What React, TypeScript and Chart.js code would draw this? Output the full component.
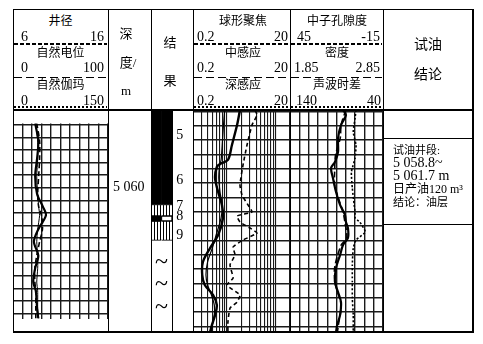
import React, { useEffect, useRef } from "react";
import { Chart, registerables } from "chart.js";
Chart.register(...registerables);

// ---------- depth axis ----------
const DEPTH_MIN = 5054.9;
const DEPTH_MAX = 5070.4;
const depthGrid = [5055, 5056, 5057, 5058, 5059, 5060, 5061, 5062, 5063, 5064, 5065, 5066, 5067, 5068, 5069, 5070];
const depthLabelValue = 5060;
const depthLabelText = "5 060";

// ---------- grid ticks ----------
const spGrid = [0, 10, 20, 30, 40, 50, 60, 70, 80, 90, 100];
const resGrid = [0.2, 0.3, 0.4, 0.5, 0.6, 0.7, 0.8, 0.9, 1, 2, 3, 4, 5, 6, 7, 8, 9, 10, 20];
const porGrid = [-15, -9, -3, 3, 9, 15, 21, 27, 33, 39, 45];

// ---------- track 1: caliper / SP / GR ----------
const t1Depth = [5054.9, 5056.3, 5057.7, 5059.1, 5060.5, 5061.5, 5062.2, 5063.3, 5064.3, 5065.4, 5066.4, 5067.5, 5068.2, 5069.6, 5070.4];
const grValues = [35, 40, 38, 35, 38, 47, 52, 40, 33, 40, 35, 32, 36, 38, 40];
const spValues = [25, 28, 28, 27, 26, 27, 30, 31, 28, 25, 23, 23, 24, 24, 24];
const calValues = [8.4, 8.6, 8.6, 8.5, 8.6, 8.7, 8.8, 8.6, 8.5, 8.6, 8.6, 8.5, 8.6, 8.6, 8.7];

// ---------- resistivity track ----------
const resDepth = [5054.9, 5055.95, 5057.34, 5058.39, 5058.67, 5058.88, 5059.65, 5060.63, 5061.53, 5062.44, 5063.63, 5064.54, 5065.51, 5066.42, 5067.12, 5067.82, 5068.52, 5069.22, 5069.92, 5070.4];
const rfocValues = [1.86, 1.62, 1.27, 1.05, 0.72, 0.62, 0.57, 0.66, 0.79, 0.83, 0.66, 0.45, 0.32, 0.31, 0.35, 0.52, 0.62, 0.57, 0.49, 0.45];
const rdeepValues = [0.9, 0.85, 0.8, 0.76, 0.72, 0.7, 0.68, 0.72, 0.8, 0.76, 0.6, 0.5, 0.4, 0.37, 0.4, 0.48, 0.55, 0.55, 0.5, 0.48];
const rmedDepth = [5054.9, 5055.25, 5055.95, 5057.34, 5058.74, 5060.14, 5060.84, 5061.53, 5062.02, 5062.3, 5062.72, 5063.14, 5063.49, 5063.98, 5064.47, 5065.02, 5065.72, 5066.63, 5067.12, 5067.82, 5068.31, 5068.73, 5069.71, 5070.4];
const rmedValues = [3.79, 4.18, 3.29, 2.6, 2.15, 1.86, 2.05, 2.72, 3.29, 1.62, 1.86, 2.99, 4.18, 2.15, 1.34, 1.47, 1.16, 1.34, 1.0, 1.86, 1.62, 1.16, 1.05, 1.05];

// ---------- porosity track ----------
const cnlDepth = [5054.9, 5055.25, 5055.95, 5056.86, 5057.83, 5058.53, 5058.95, 5059.65, 5060.63, 5061.53, 5062.23, 5062.72, 5063.14, 5063.84, 5064.33, 5065.03, 5065.93, 5066.91, 5067.61, 5068.31, 5069.22, 5069.92, 5070.4];
const cnlValues = [10.8, 8.9, 12.1, 14.0, 14.0, 16.0, 18.5, 17.3, 15.3, 12.7, 9.5, 8.9, 7.6, 7.6, 10.8, 12.7, 15.3, 16.0, 14.0, 12.1, 12.7, 14.6, 15.3];
const denDepth = [5054.9, 5055.95, 5056.86, 5058.04, 5059.23, 5060.14, 5061.05, 5062.02, 5062.72, 5063.84, 5064.33, 5065.93, 5067.12, 5068.52, 5069.92, 5070.4];
const denValues = [2.45, 2.40, 2.39, 2.34, 2.33, 2.33, 2.37, 2.42, 2.44, 2.46, 2.40, 2.33, 2.34, 2.40, 2.37, 2.36];
const acDepth = [5054.9, 5055.46, 5056.44, 5057.34, 5058.25, 5059.23, 5060.35, 5061.53, 5062.02, 5062.44, 5062.72, 5063.42, 5063.98, 5064.54, 5065.72, 5066.91, 5068.03, 5069.22, 5070.4];
const acValues = [69, 70, 72, 69, 70, 74, 73, 71, 70, 70, 65, 59, 69, 72, 73, 73, 73, 72, 72];

// ---------- lithology ----------
const lithCats = ["A", "B", "C", "D"];
const lithTop = [5054.9, 5061.5, 5062.3, 5062.65];
const lithBottom = [5061.5, 5062.3, 5062.65, 5064.0];
const lithFillA = ["black", "hatch", "black", "hatch"];
const lithFillB = ["black", "hatch", "white", "hatch"];
const layerNames = ["5", "6", "7", "8", "9"];
const layerDepths = [5056.65, 5059.8, 5061.65, 5062.35, 5063.63];
const tildeDepths = [5065.58, 5067.12, 5068.73];

const SERIF = '"Liberation Serif", "Noto Sans CJK SC", serif';

const gridColor = "#1a1a1a";

function depthAxis(extra: any = {}) {
  return {
    type: "linear",
    axis: "y",
    min: DEPTH_MIN,
    max: DEPTH_MAX,
    reverse: true,
    position: "left",
    afterBuildTicks: (s: any) => {
      s.ticks = depthGrid.map((v) => ({ value: v }));
    },
    afterFit: (s: any) => {
      s.width = 0;
    },
    ticks: { display: false, autoSkip: false },
    grid: { color: gridColor, lineWidth: 1.4, drawTicks: false },
    border: { display: false },
    ...extra,
  };
}

function gridX(type: string, min: number, max: number, ticks: number[], reverse = false, lw = 1.4) {
  return {
    type,
    axis: "x",
    position: "bottom",
    min,
    max,
    reverse,
    afterBuildTicks: (s: any) => {
      s.ticks = ticks.map((v) => ({ value: v }));
    },
    afterFit: (s: any) => {
      s.height = 0;
    },
    ticks: { display: false, autoSkip: false },
    grid: { color: gridColor, lineWidth: lw, drawTicks: false },
    border: { display: false },
  };
}

function hiddenX(min: number, max: number, reverse = false) {
  return { type: "linear", axis: "x", position: "bottom", min, max, reverse, display: false };
}

function curve(label: string, depth: number[], values: number[], xAxisID: string, style: any) {
  return {
    label,
    data: depth.map((d, i) => ({ x: values[i], y: d })),
    xAxisID,
    yAxisID: "y",
    showLine: true,
    pointRadius: 0,
    borderColor: "#000",
    backgroundColor: "#000",
    tension: 0.3,
    ...style,
  };
}

const baseOptions = {
  animation: false,
  responsive: false,
  maintainAspectRatio: false,
  devicePixelRatio: 1,
  events: [],
  layout: { padding: 0 },
  plugins: { legend: { display: false }, tooltip: { enabled: false }, title: { display: false } },
};

const lithLabelPlugin = {
  id: "lithLabels",
  afterDatasetsDraw(chart: any) {
    const { ctx, scales } = chart;
    const x = scales.x;
    const y = scales.y;
    ctx.save();
    ctx.fillStyle = "#000";
    ctx.textBaseline = "middle";
    ctx.textAlign = "left";
    ctx.font = `14px ${SERIF}`;
    layerNames.forEach((n, i) => {
      ctx.fillText(n, x.getPixelForValue(2) - 1, y.getPixelForValue(layerDepths[i]));
    });
    ctx.font = `24px ${SERIF}`;
    ctx.textAlign = "center";
    const tx = (x.getPixelForValue(0) + x.getPixelForValue(1)) / 2;
    tildeDepths.forEach((d) => ctx.fillText("~", tx, y.getPixelForValue(d)));
    ctx.restore();
  },
};

type TextProps = { x: number; y: number; t: string; a?: "l" | "c" | "r"; s?: number };
function Txt({ x, y, t, a = "c", s = 14 }: TextProps) {
  const tx = a === "l" ? "0" : a === "c" ? "-50%" : "-100%";
  return (
    <div
      style={{
        position: "absolute",
        left: x,
        top: y,
        transform: `translate(${tx}, -50%)`,
        fontFamily: SERIF,
        fontSize: s,
        lineHeight: `${s}px`,
        height: s,
        whiteSpace: "nowrap",
        color: "#000",
      }}
    >
      {t}
    </div>
  );
}

function Ln({ x, y, w, h }: { x: number; y: number; w: number; h: number }) {
  return <div style={{ position: "absolute", left: x, top: y, width: w, height: h, background: "#000" }} />;
}

function Dash({ x, y, w, d, g }: { x: number; y: number; w: number; d: number; g: number }) {
  return (
    <div
      style={{
        position: "absolute",
        left: x,
        top: y,
        width: w,
        height: 1.5,
        background: `repeating-linear-gradient(to right, #000 0 ${d}px, transparent ${d}px ${d + g}px)`,
      }}
    />
  );
}

export default function App() {
  const c1 = useRef<HTMLCanvasElement>(null);
  const c2 = useRef<HTMLCanvasElement>(null);
  const c3 = useRef<HTMLCanvasElement>(null);
  const c4 = useRef<HTMLCanvasElement>(null);

  useEffect(() => {
    const charts: Chart[] = [];

    // Track 1
    charts.push(
      new Chart(c1.current as HTMLCanvasElement, {
        type: "scatter",
        data: {
          datasets: [
            curve("自然伽玛", t1Depth, grValues, "gr", { borderWidth: 2.2 }),
            curve("自然电位", t1Depth, spValues, "x", { borderWidth: 1.6, borderDash: [5, 3] }),
            curve("井径", t1Depth, calValues, "cal", { borderWidth: 1, tension: 0.2 }),
          ],
        },
        options: {
          ...baseOptions,
          scales: {
            x: gridX("linear", 0, 100, spGrid),
            gr: hiddenX(0, 150),
            cal: hiddenX(6, 16),
            y: depthAxis({
              position: "right",
              afterFit: (s: any) => {
                s.width = 43;
              },
              ticks: {
                display: true,
                autoSkip: false,
                padding: 5,
                color: "#000",
                font: { family: SERIF, size: 14 },
                callback: (v: any) => (v === depthLabelValue ? depthLabelText : ""),
              },
            }),
          },
        } as any,
      })
    );

    // Lithology
    const pc = document.createElement("canvas");
    pc.width = 3;
    pc.height = 4;
    const pg = pc.getContext("2d") as CanvasRenderingContext2D;
    pg.fillStyle = "#fff";
    pg.fillRect(0, 0, 3, 4);
    pg.fillStyle = "#000";
    pg.fillRect(0, 0, 1, 4);
    const lctx = (c2.current as HTMLCanvasElement).getContext("2d") as CanvasRenderingContext2D;
    const hatch = lctx.createPattern(pc, "repeat");
    const fillOf = (k: string) => (k === "black" ? "#000" : k === "white" ? "#fff" : hatch);
    const lithDatasets: any[] = [];
    lithTop.forEach((t, i) => {
      [lithFillA[i], lithFillB[i]].forEach((k, h) => {
        const data: any[] = [null, null, null, null];
        data[h] = [t, lithBottom[i]];
        lithDatasets.push({
          data,
          backgroundColor: fillOf(k),
          borderColor: "#000",
          borderWidth: k === "black" ? 0 : k === "white" ? 1 : { top: 1, bottom: 1, left: 0, right: 0 },
          borderSkipped: false,
          grouped: false,
          barPercentage: 1,
          categoryPercentage: 1,
        });
      });
    });
    charts.push(
      new Chart(c2.current as HTMLCanvasElement, {
        type: "bar",
        data: { labels: lithCats, datasets: lithDatasets },
        options: {
          ...baseOptions,
          scales: {
            x: { type: "category", display: false, offset: true },
            y: { type: "linear", min: DEPTH_MIN, max: DEPTH_MAX, reverse: true, display: false },
          },
        } as any,
        plugins: [lithLabelPlugin],
      })
    );

    // Resistivity
    charts.push(
      new Chart(c3.current as HTMLCanvasElement, {
        type: "scatter",
        data: {
          datasets: [
            curve("球形聚焦", resDepth, rfocValues, "x", { borderWidth: 2.4 }),
            curve("深感应", resDepth, rdeepValues, "x", { borderWidth: 1.2 }),
            curve("中感应", rmedDepth, rmedValues, "x", { borderWidth: 1.6, borderDash: [4, 3], tension: 0.15 }),
          ],
        },
        options: {
          ...baseOptions,
          scales: {
            x: gridX("logarithmic", 0.2, 20, resGrid, false, 1.1),
            y: depthAxis(),
          },
        } as any,
      })
    );

    // Porosity
    charts.push(
      new Chart(c4.current as HTMLCanvasElement, {
        type: "scatter",
        data: {
          datasets: [
            curve("中子孔隙度", cnlDepth, cnlValues, "x", { borderWidth: 2.2 }),
            curve("密度", denDepth, denValues, "den", { borderWidth: 1.6, borderDash: [6, 3] }),
            curve("声波时差", acDepth, acValues, "ac", { borderWidth: 1.6, borderDash: [2, 2], tension: 0.15 }),
          ],
        },
        options: {
          ...baseOptions,
          scales: {
            x: gridX("linear", -15, 45, porGrid, true),
            den: hiddenX(1.85, 2.85),
            ac: hiddenX(40, 140, true),
            y: depthAxis(),
          },
        } as any,
      })
    );

    return () => charts.forEach((c) => c.destroy());
  }, []);

  const top = 110;
  const h = 222;
  const cv = (x: number, w: number) => ({ position: "absolute" as const, left: x, top, width: w, height: h });

  return (
    <div
      style={{
        position: "fixed",
        left: 0,
        top: 0,
        width: 483,
        height: 344,
        background: "#fff",
        overflow: "hidden",
        fontFamily: SERIF,
      }}
    >
      <canvas ref={c1} width={138} height={h} style={cv(13, 138)} />
      <canvas ref={c2} width={42} height={h} style={cv(151, 42)} />
      <canvas ref={c3} width={97} height={h} style={cv(193, 97)} />
      <canvas ref={c4} width={93} height={h} style={cv(290, 93)} />

      {/* frame */}
      <Ln x={12.5} y={8.5} w={461} h={1.5} />
      <Ln x={12.5} y={109} w={461} h={2} />
      <Ln x={12.5} y={331} w={461} h={1.5} />
      {[12.5, 107.5, 150.5, 192.5, 289.5, 382.5, 472].map((x) => (
        <Ln key={x} x={x} y={8.5} w={1.5} h={324} />
      ))}
      <Ln x={171.5} y={110} w={1.5} h={222} />
      <Ln x={383} y={137.5} w={90} h={1.5} />
      <Ln x={383} y={223.5} w={90} h={1.5} />

      {/* header separators */}
      <Dash x={14} y={43} w={93} d={4} g={2} />
      <Dash x={14} y={76.5} w={93} d={8} g={4} />
      <Dash x={194} y={43} w={95} d={4} g={2} />
      <Dash x={194} y={76.5} w={95} d={8} g={4} />
      <Dash x={291} y={43} w={91} d={4} g={2} />
      <Dash x={291} y={76.5} w={91} d={8} g={4} />
      <Dash x={14} y={106} w={93} d={2} g={2} />
      <Dash x={194} y={106} w={95} d={2} g={2} />
      <Dash x={291} y={106} w={91} d={2} g={2} />

      {/* track 1 header */}
      <Txt x={60.5} y={21} t="井径" s={12} />
      <Txt x={21} y={37} t="6" a="l" />
      <Txt x={104} y={37} t="16" a="r" />
      <Txt x={60.5} y={53} t="自然电位" s={12} />
      <Txt x={21} y={68} t="0" a="l" />
      <Txt x={104} y={68} t="100" a="r" />
      <Txt x={60.5} y={85} t="自然伽玛" s={12} />
      <Txt x={21} y={101} t="0" a="l" />
      <Txt x={104} y={101} t="150" a="r" />

      {/* depth header */}
      <Txt x={126} y={33} t="深" s={13} />
      <Txt x={128} y={62} t="度/" s={13} />
      <Txt x={126} y={90} t="m" s={13} />

      {/* lithology header */}
      <Txt x={170} y={42} t="结" s={13} />
      <Txt x={170} y={80} t="果" s={13} />

      {/* resistivity header */}
      <Txt x={243} y={21} t="球形聚焦" s={12} />
      <Txt x={197} y={37} t="0.2" a="l" />
      <Txt x={288} y={37} t="20" a="r" />
      <Txt x={243} y={53} t="中感应" s={12} />
      <Txt x={197} y={68} t="0.2" a="l" />
      <Txt x={288} y={68} t="20" a="r" />
      <Txt x={243} y={85} t="深感应" s={12} />
      <Txt x={197} y={101} t="0.2" a="l" />
      <Txt x={288} y={101} t="20" a="r" />

      {/* porosity header */}
      <Txt x={337} y={21} t="中子孔隙度" s={12} />
      <Txt x={297} y={37} t="45" a="l" />
      <Txt x={380} y={37} t="-15" a="r" />
      <Txt x={337} y={53} t="密度" s={12} />
      <Txt x={294} y={68} t="1.85" a="l" />
      <Txt x={380} y={68} t="2.85" a="r" />
      <Txt x={337} y={85} t="声波时差" s={12} />
      <Txt x={296} y={101} t="140" a="l" />
      <Txt x={381} y={101} t="40" a="r" />

      {/* conclusion header */}
      <Txt x={428} y={45} t="试油" s={14} />
      <Txt x={428} y={75} t="结论" s={14} />

      {/* conclusion body */}
      <Txt x={393} y={150} t="试油井段:" a="l" s={11} />
      <Txt x={393} y={163} t="5 058.8~" a="l" s={14} />
      <Txt x={393} y={176} t="5 061.7 m" a="l" s={14} />
      <Txt x={393} y={189} t="日产油120 m³" a="l" s={12} />
      <Txt x={393} y={202} t="结论：油层" a="l" s={11} />
    </div>
  );
}
